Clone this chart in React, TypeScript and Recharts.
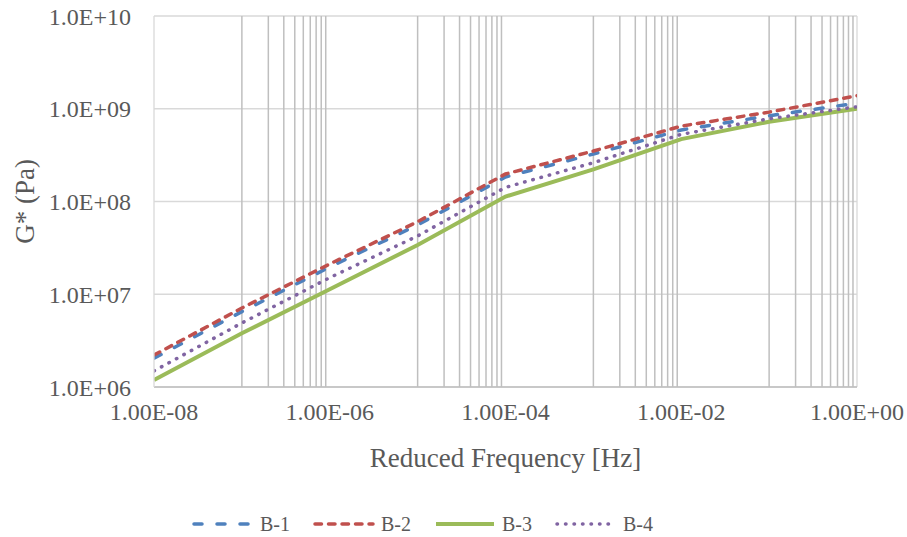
import { LineChart, Line, XAxis, YAxis, CartesianGrid, Legend, ReferenceLine } from 'recharts';

// Reduced frequency (Hz) and |G*| (Pa) master-curve values per mix
const FREQ = [1e-8, 1e-7, 1e-6, 1e-5, 1e-4, 1e-3, 1e-2, 1e-1, 1];
const B1 = [2.04e6, 6.5e6, 1.97e7, 5.58e7, 1.84e8, 3.25e8, 5.9e8, 8.4e8, 1.15e9];
const B2 = [2.21e6, 7.1e6, 2.12e7, 6.05e7, 1.98e8, 3.5e8, 6.5e8, 9.2e8, 1.38e9];
const B3 = [1.19e6, 3.8e6, 1.13e7, 3.4e7, 1.13e8, 2.22e8, 4.7e8, 7.25e8, 1.0e9];
const B4 = [1.49e6, 4.9e6, 1.51e7, 4.25e7, 1.42e8, 2.62e8, 5.3e8, 7.8e8, 1.05e9];

const X_TICKS = [1e-8, 1e-6, 1e-4, 1e-2, 1];
const Y_TICKS = [1e6, 1e7, 1e8, 1e9, 1e10];

// minor gridlines: 1..9 x 10^n for the decades between the labelled ticks
const MINOR_DECADES = [1e-7, 1e-5, 1e-3, 1e-1];
const MINOR_GRID = MINOR_DECADES.flatMap(d => [1, 2, 3, 4, 5, 6, 7, 8, 9].map(k => k * d));

const data = FREQ.map((f, i) => ({ f, b1: B1[i], b2: B2[i], b3: B3[i], b4: B4[i] }));

const SERIES = [
    { key: 'b1', name: 'B-1', color: '#4F81BD', dash: '8 15', width: 3.5 },
    { key: 'b2', name: 'B-2', color: '#C0504D', dash: '6.5 7', width: 3.5 },
    { key: 'b3', name: 'B-3', color: '#9BBB59', dash: undefined, width: 4 },
    { key: 'b4', name: 'B-4', color: '#8064A2', dash: '0.5 8', width: 3.5 },
];

const FONT = '"Liberation Serif", serif';
const TEXT = '#595959';

const expLabel = (v: number, digits: number) => {
    const [m, e] = v.toExponential(digits).split('e');
    const sign = e[0] === '-' ? '-' : '+';
    return `${m}E${sign}${e.replace(/[-+]/, '').padStart(2, '0')}`;
};

const YTitle = ({ viewBox }: any) => {
    const cx = 25;
    const cy = viewBox.y + viewBox.height / 2;
    return (
        <text x={cx} y={cy} transform={`rotate(-90, ${cx}, ${cy})`} textAnchor="middle"
            dominantBaseline="central" fill={TEXT} fontSize={27} fontFamily={FONT}>
            G* (Pa)
        </text>
    );
};

const renderLegend = () => (
    <div style={{ display: 'flex', paddingTop: 26, fontFamily: FONT, fontSize: 20, color: TEXT }}>
        {SERIES.map(s => (
            <div key={s.key} style={{ display: 'flex', alignItems: 'center', width: 121 }}>
                <svg width={62} height={10}>
                    <line x1={2} y1={5} x2={60} y2={5} stroke={s.color} strokeWidth={s.width}
                        strokeDasharray={s.dash} strokeLinecap={s.dash ? 'round' : 'butt'} />
                </svg>
                <span style={{ marginLeft: 6, lineHeight: '22px' }}>{s.name}</span>
            </div>
        ))}
    </div>
);

export default function App() {
    return (
        <div style={{ position: 'absolute', left: 0, top: 0, background: '#fff', fontFamily: FONT }}>
            <LineChart width={907} height={537} data={data}
                margin={{ top: 16, right: 50, left: 0, bottom: 0 }}
                style={{ fontFamily: FONT }}>
                <CartesianGrid vertical={false} stroke="#d9d9d9" strokeWidth={1.3} />
                {MINOR_GRID.map(v => (
                    <ReferenceLine key={v} x={v} stroke="#bfbfbf" strokeWidth={1.5} zIndex={-50} />
                ))}
                <ReferenceLine x={1} stroke="#d9d9d9" strokeWidth={1.3} zIndex={-50} />
                <XAxis dataKey="f" type="number" scale="log" domain={[1e-8, 1]} allowDataOverflow
                    ticks={X_TICKS} tickFormatter={(v: number) => expLabel(v, 2)}
                    height={100} tickSize={0} tickMargin={16} tickLine={false}
                    axisLine={{ stroke: '#bfbfbf', strokeWidth: 1.3 }}
                    tick={{ fill: TEXT, fontSize: 24, fontFamily: FONT }}
                    label={{ value: 'Reduced Frequency [Hz]', position: 'insideBottom', offset: 20,
                        fill: TEXT, fontSize: 27, fontFamily: FONT }} />
                <YAxis type="number" scale="log" domain={[1e6, 1e10]} allowDataOverflow
                    ticks={Y_TICKS} tickFormatter={(v: number) => expLabel(v, 1)}
                    width={154} tickSize={0} tickMargin={23} tickLine={false}
                    axisLine={{ stroke: '#d9d9d9', strokeWidth: 1.3 }}
                    tick={{ fill: TEXT, fontSize: 24, fontFamily: FONT }}
                    label={<YTitle />} />
                {SERIES.map(s => (
                    <Line key={s.key} type="linear" dataKey={s.key} name={s.name} stroke={s.color}
                        strokeWidth={s.width} strokeDasharray={s.dash}
                        strokeLinecap={s.dash ? 'round' : 'butt'} dot={false} activeDot={false}
                        isAnimationActive={false} />
                ))}
                <Legend verticalAlign="bottom" align="left" height={50}
                    wrapperStyle={{ left: 192, width: 500 }} content={renderLegend} />
            </LineChart>
        </div>
    );
}
